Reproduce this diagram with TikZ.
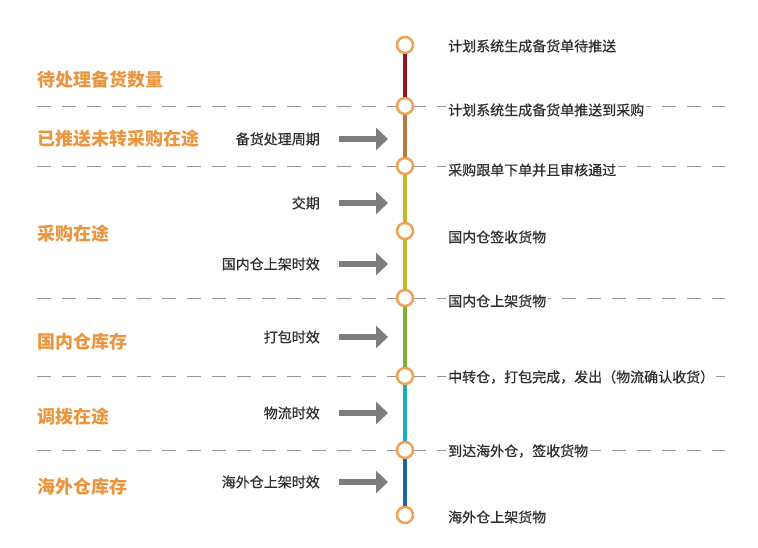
\documentclass[tikz,border=0pt]{standalone}
\usepackage{fontspec}
\newfontfamily\cjk{Noto Sans CJK SC}
\newfontfamily\cjkmid[FakeBold=0.5]{Noto Sans CJK SC}
\usetikzlibrary{
    arrows.meta,
    positioning
}
\definecolor{tikzorange}{RGB}{234,150,62}
\definecolor{dotorange}{RGB}{240,162,84}
\definecolor{textgray}{RGB}{45,45,45}
\definecolor{arrowgray}{RGB}{125,125,125}
\definecolor{dashgray}{RGB}{150,150,150}
\definecolor{segred}{RGB}{150,22,28}
\definecolor{segbrown}{RGB}{184,122,60}
\definecolor{segolive}{RGB}{192,186,42}
\definecolor{seggreen}{RGB}{122,178,50}
\definecolor{segteal}{RGB}{32,170,192}
\definecolor{segblue}{RGB}{30,102,160}
\tikzset{
    % Text styles
    stage label/.style={
        font=\cjk\bfseries\fontsize{18}{20}\selectfont,
        text=tikzorange,
        anchor=west,
        inner sep=0pt
    },
    event label/.style={
        font=\cjkmid\fontsize{14}{16}\selectfont,
        text=textgray,
        fill=white,
        anchor=west,
        inner sep=2pt
    },
    time label/.style={
        font=\cjkmid\fontsize{14}{16}\selectfont,
        text=textgray,
        anchor=east,
        inner sep=0pt
    },
    % Line styles
    time arrow/.style={
        -{Triangle[length=12pt,width=22pt]},
        line width=5.5pt,
        arrowgray
    },
    split line/.style={
        dashgray,
        line width=0.8pt,
        dash pattern=on 14pt off 11pt
    },
    stage line/.style={
        line width=3.5pt
    },
    % Dot style
    event dot/.style={
        circle,
        draw=dotorange,
        fill=white,
        line width=2.5pt,
        minimum size=16pt,
        inner sep=0pt
    }
}

\begin{document}
\begin{tikzpicture}[x=1pt,y=-1pt]
        \useasboundingbox (0,0) rectangle (758,548);

        % Separator lines
        \foreach \y in {106,166,298,376,450} {
            \draw[split line] (37,\y) -- (725,\y);
        }

        % Event dots
        \foreach \i/\y in {1/45,2/106,3/166,4/231,5/298,6/376,7/450,8/515} {
            \node[event dot] (p\i) at (405,\y) {};
        }

        % Timeline segments
        \foreach \i/\j/\c in {1/2/segred,2/3/segbrown,3/4/segolive,4/5/segolive,5/6/seggreen,6/7/segteal,7/8/segblue} {
            \draw[stage line, \c] (p\i) -- (p\j);
        }

        % Event texts
        \foreach \i/\y/\txt in {1/46/{计划系统生成备货单待推送},2/110/{计划系统生成备货单推送到采购},3/170/{采购跟单下单并且审核通过},4/237/{国内仓签收货物},5/301/{国内仓上架货物},6/377/{中转仓，打包完成，发出（物流确认收货）},7/451/{到达海外仓，签收货物},8/517/{海外仓上架货物}} {
            \node[event label] (e\i) at (446,\y) {\txt};
        }

        % Stage names
        \foreach \i/\y/\txt in {1/80/{待处理备货数量},2/139/{已推送未转采购在途},3/234/{采购在途},4/342/{国内仓库存},5/417/{调拨在途},6/487/{海外仓库存}} {
            \node[stage label] (s\i) at (37,\y) {\txt};
        }

        % Durations
        \foreach \i/\y/\txt in {1/139/{备货处理周期},2/203/{交期},3/264/{国内仓上架时效},4/337/{打包时效},5/413/{物流时效},6/482/{海外仓上架时效}} {
            \node[time label] (t\i) at (320,\y) {\txt};
            \coordinate[right=19pt of t\i] (ta\i);
            \coordinate[right=68pt of t\i] (tb\i);
            \draw[time arrow] (ta\i) -- (tb\i);
        }
    \end{tikzpicture}
\end{document}
